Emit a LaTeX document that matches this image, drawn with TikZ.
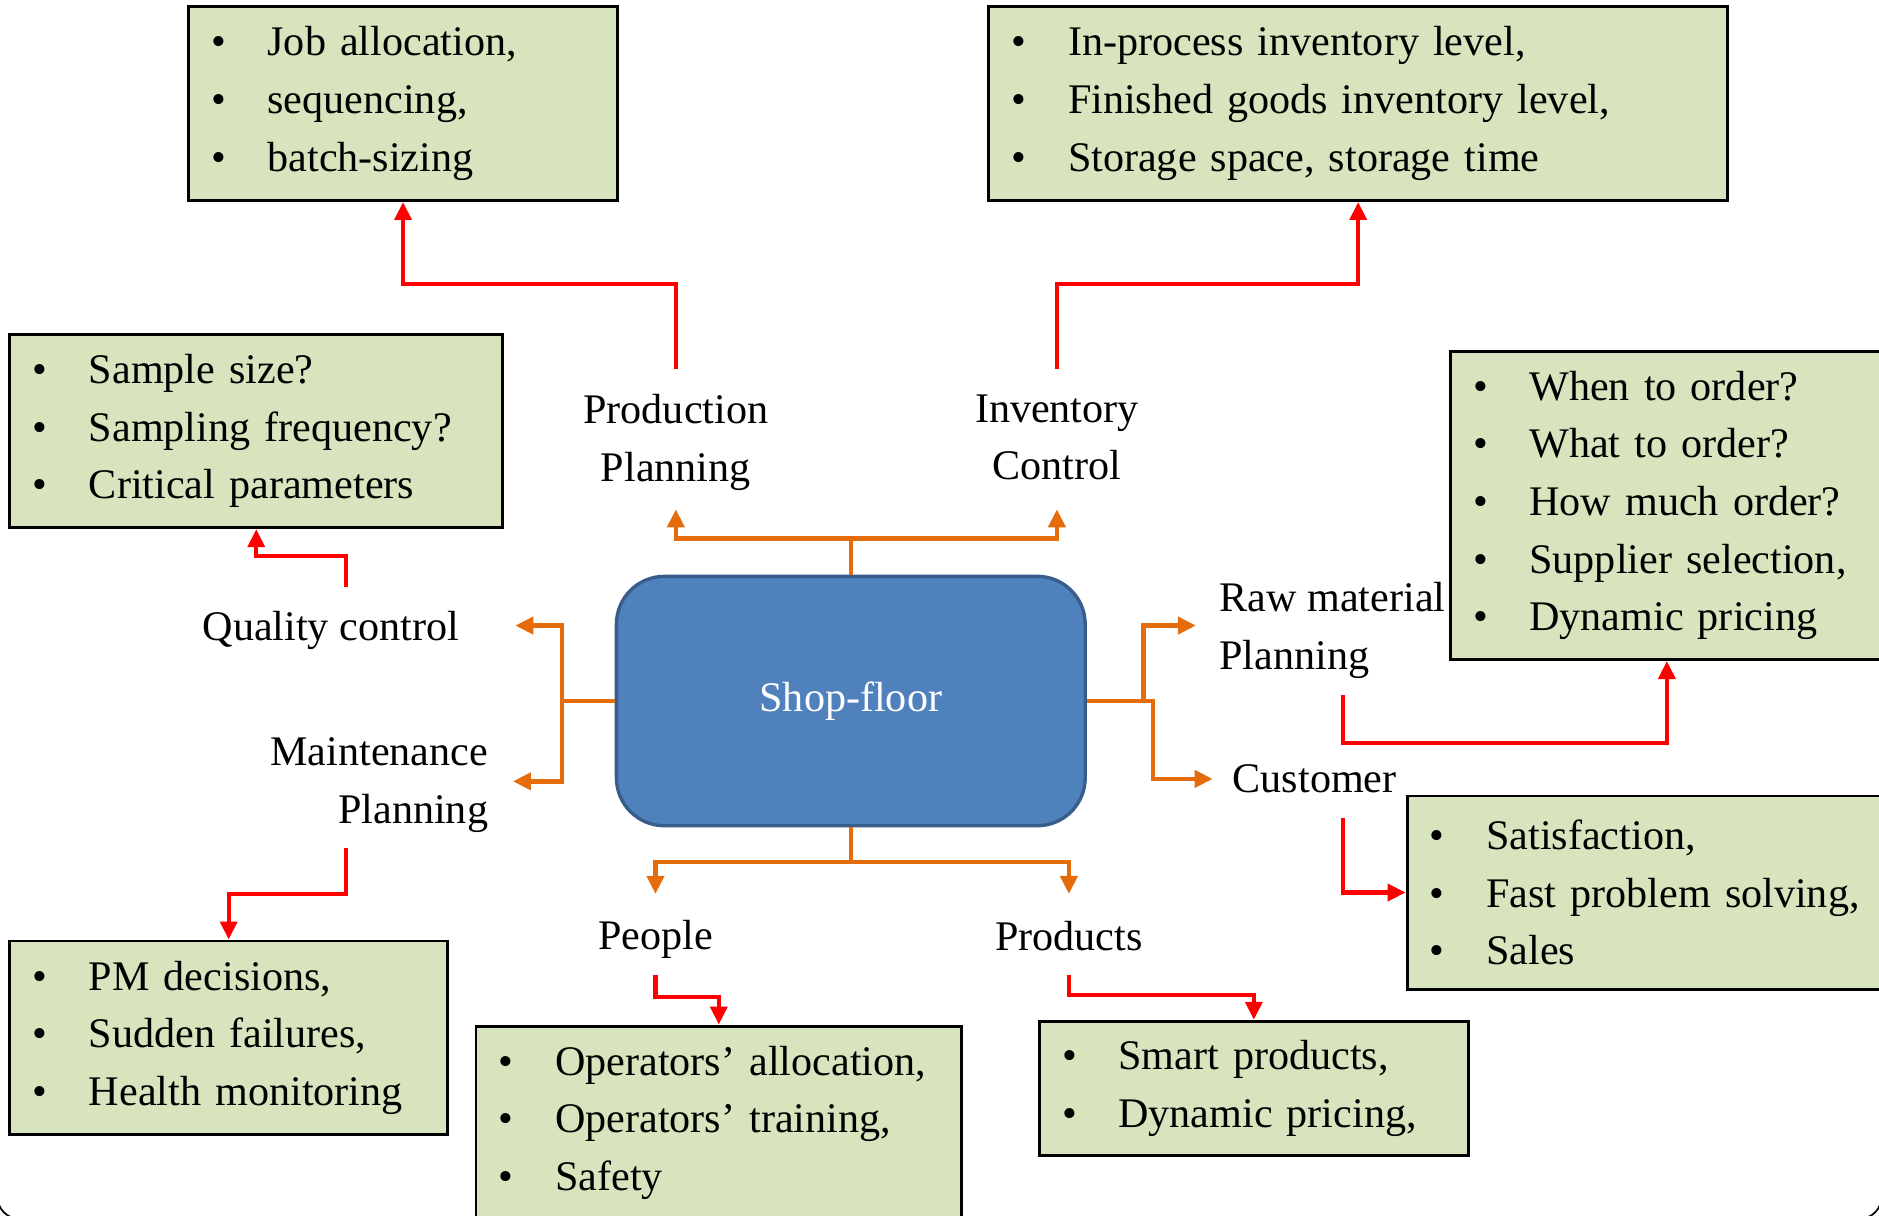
\documentclass[tikz,border=0pt]{standalone}
\usepackage{fontspec}
\setmainfont{Liberation Serif}
\usepackage{tikz}
\usetikzlibrary{calc}
\usetikzlibrary{arrows.meta}
\definecolor{boxgreen}{HTML}{D7E4BD}
\definecolor{feedorange}{HTML}{E46C0A}
\definecolor{shopblue}{HTML}{4F81BD}
\definecolor{shopedge}{HTML}{385D8A}
\newcommand{\itm}[1]{\mbox{\makebox[0.47cm][l]{\textbullet}#1}}

\begin{document}
\begin{tikzpicture}[x=0.01cm,y=-0.01cm,font=\fontsize{10pt}{13.66pt}\selectfont,
box/.style={anchor=north west, draw=black, line width=0.7pt, fill=boxgreen, inner xsep=0.19cm, inner ysep=0pt, align=left, text width=#1},
lbl/.style={inner sep=0pt, align=center},
hub/.style={draw=shopedge, line width=0.8pt, fill=shopblue, text=white, rounded corners=0.4cm, minimum width=3.91cm, minimum height=2.08cm},
feed/.style={draw=feedorange, line width=1.1pt, -{Triangle[length=0.15cm,width=0.14cm]}},
link/.style={draw=red, line width=1pt, -{Triangle[length=0.15cm,width=0.14cm]}}]
\useasboundingbox (0,0) rectangle (1568,1014);
\draw[line width=0.4pt, rounded corners=0.18cm] (-2,-40) rectangle (1570,1017);
\node (shop) at (710,585) [hub] {Shop-floor};
\node (pp) at (564,369) [lbl] {Production\\Planning};
\node (ic) at (882,365) [lbl] {Inventory\\Control};
\node (qc) at (276,526) [lbl] {Quality control};
\node (mp) at (408,655) [lbl, anchor=east, align=right] {Maintenance\\Planning};
\node (rm) at (1017,526) [lbl, anchor=west, align=left] {Raw material\\Planning};
\node (cu) at (1028,650) [lbl, anchor=west] {Customer};
\node (pe) at (547,784) [lbl] {People};
\node (pr) at (892,781) [lbl] {Products};
\node (jb) at (156,4) [box=3.2cm, minimum height=1.62cm] {\itm{Job allocation,}\\\itm{sequencing,}\\\itm{batch-sizing}};
\node (ib) at (824,4) [box=5.78cm, minimum height=1.62cm] {\itm{In-process inventory level,}\\\itm{Finished goods inventory level,}\\\itm{Storage space, storage time}};
\node (qb) at (7,278) [box=3.73cm, minimum height=1.61cm] {\itm{Sample size?}\\\itm{Sampling frequency?}\\\itm{Critical parameters}};
\node (rb) at (1209,292) [box=4cm, minimum height=2.57cm] {\itm{When to order?}\\\itm{What to order?}\\\itm{How much order?}\\\itm{Supplier selection,}\\\itm{Dynamic pricing}};
\node (cb) at (1173,663) [box=4cm, minimum height=1.61cm] {\itm{Satisfaction,}\\\itm{Fast problem solving,}\\\itm{Sales}};
\node (mb) at (7,784) [box=3.27cm, minimum height=1.61cm] {\itm{PM decisions,}\\\itm{Sudden failures,}\\\itm{Health monitoring}};
\node (lb) at (396,855) [box=3.67cm, minimum height=1.61cm] {\itm{Operators' allocation,}\\\itm{Operators' training,}\\\itm{Safety}};
\node (db) at (866,851) [box=3.2cm, minimum height=1.12cm] {\itm{Smart products,}\\\itm{Dynamic pricing,}};
% shop-floor to its eight areas
\draw[feed] (shop.north) -- ++(0,-30) -| ($(pp)+(0,56)$);
\draw[feed] (shop.north) -- ++(0,-30) -| ($(ic)+(0,60)$);
\draw[feed] (shop.south) -- ++(0,29) -| ($(pe)+(0,-38)$);
\draw[feed] (shop.south) -- ++(0,29) -| ($(pr)+(0,-35)$);
\draw[feed] (shop.west) -- ++(-44,0) |- ($(qc)+(154,-4)$);
\draw[feed] (shop.west) -- ++(-44,0) |- ($(mp.east)+(20,-3)$);
\draw[feed] (shop.east) -- ++(47,0) |- ($(rm.west)+(-19,-4)$);
\draw[feed] (shop.east) -- ++(55,0) |- ($(cu.west)+(-16,0)$);
% areas to their decisions
\draw[link] ($(pp)+(0,-61)$) -- ++(0,-71) -| (jb.south);
\draw[link] ($(ic)+(0,-57)$) -- ++(0,-71) -| (ib.south);
\draw[link] ($(qc)+(13,-36)$) -- ++(0,-26) -| (qb.south);
\draw[link] ($(rm.west)+(104,54)$) -- ++(0,40) -| ($(rb.south west)+(182,0)$);
\draw[link] ($(cu.west)+(93,33)$) |- (cb.west);
\draw[link] ($(mp.east)+(-119,53)$) -- ++(0,38) -| (mb.north);
\draw[link] ($(pe)+(0,30)$) -- ++(0,18) -| (lb.north);
\draw[link] ($(pr)+(0,33)$) -- ++(0,16) -| (db.north);
\end{tikzpicture}
\end{document}
